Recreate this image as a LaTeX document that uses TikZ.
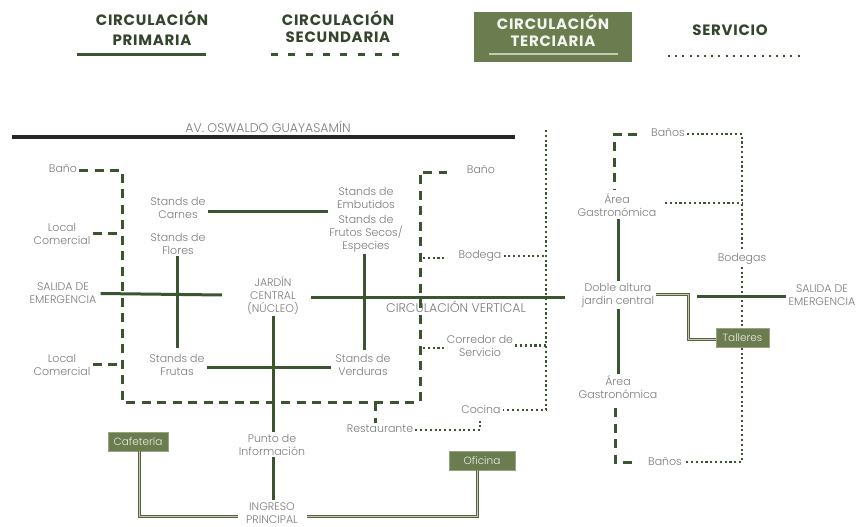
\documentclass[tikz,border=0pt]{standalone}
\usepackage{fontspec}
\setmainfont{Poppins}
\IfFontExistsTF{Poppins Light}{\newfontfamily\lightfont{Poppins Light}}{\newfontfamily\lightfont{Poppins}}
\usetikzlibrary{positioning}

\definecolor{darkgr}{HTML}{3B5530}
\definecolor{olivegr}{HTML}{6B7D4E}
\definecolor{palegr}{HTML}{C4CBB5}
\definecolor{txtgr}{HTML}{7A7A7A}
\definecolor{hdrgr}{HTML}{34452E}

\begin{document}
\begin{tikzpicture}[
	x=1pt, y=-1pt,
	lbl/.style={font=\lightfont\fontsize{11}{13}\selectfont, text=txtgr,
		align=center, inner sep=2pt},
	biglbl/.style={lbl, font=\lightfont\fontsize{12.5}{14}\selectfont},
	hd/.style={font=\bfseries\fontsize{15}{17}\selectfont\addfontfeature{LetterSpace=5},
		text=hdrgr, align=center},
	tbox/.style={fill=olivegr, draw=palegr!50!olivegr, line width=0.4pt,
		text=white!88!olivegr, font=\lightfont\fontsize{10.5}{12}\selectfont,
		inner sep=0pt, minimum height=19pt},
	prim/.style={line width=3pt, draw=darkgr},
	sec/.style={line width=3pt, draw=darkgr, dash pattern=on 9pt off 6.5pt},
	serv/.style={line width=2.1pt, draw=darkgr, dash pattern=on 2.1pt off 2.7pt},
	terc/.style={draw=olivegr!80!black, double=palegr, line width=1pt, double distance=1pt},
]
\useasboundingbox (0,0) rectangle (860,527);

% ---- legend ----
\node[hd] (lgP) at (152,28.5) {CIRCULACIÓN\\[3pt]PRIMARIA};
\draw[prim] (77,55) -- (206,55);

\node[hd] (lgS) at (338,26.5) {CIRCULACIÓN\\SECUNDARIA};
\draw[sec, dash pattern=on 7pt off 10.3pt] (271,55) -- (401,55);

\node[fill=olivegr, minimum width=158pt, minimum height=50pt, inner sep=0pt] (lgTbox) at (553,37) {};
\node[hd, text=white!92!olivegr] (lgT) at (553,30.5) {CIRCULACIÓN\\TERCIARIA};
\draw[line width=2.5pt, palegr] (489,54) -- (618,54);

\node[hd] (lgV) at (730,30) {SERVICIO};
\draw[serv, dash pattern=on 2pt off 5.2pt] (668,56) -- (800,56);

% ---- avenue ----
\coordinate (av1) at (12,137);
\coordinate (av2) at (515,137);
\draw[line width=3.8pt, black!85] (av1) -- (av2);
\node[biglbl, anchor=south] (avname) at (268,135) {AV. OSWALDO GUAYASAMÍN};

% ---- market block ----
\node[lbl] (bano1) at (63,169) {Baño};
\node[lbl] (loc1) at (62,233.5) {Local\\Comercial};
\node[lbl] (salida1) at (63,293.5) {SALIDA DE\\EMERGENCIA};
\node[lbl] (loc2) at (62,364.5) {Local\\Comercial};

\node[lbl] (carnes) at (178,207.5) {Stands de\\Carnes};
\node[lbl] (flores) at (178,243.5) {Stands de\\Flores};
\node[lbl] (embut) at (366,197.5) {Stands de\\Embutidos};
\node[lbl] (frutos) at (366,233.5) {Stands de\\Frutos Secos/\\Especies};
\node[lbl] (jardin) at (273,295) {JARDÍN\\CENTRAL\\(NÚCLEO)};
\node[lbl] (frutas) at (177,364.5) {Stands de\\Frutas};
\node[lbl] (verdur) at (363,364.5) {Stands de\\Verduras};
\node[biglbl] (cvert) at (456,307) {CIRCULACIÓN VERTICAL};

\coordinate (sE) at (222,295);
\coordinate (flB) at (177,348);
\coordinate (caE) at (328,211);
\coordinate (frB) at (364,350);
\coordinate (jaE) at (565,297);
\coordinate (fuE) at (331,367);

\draw[prim] ([xshift=2pt]salida1.east) -- (sE);
\draw[prim] (flores.south -| flB) -- (flB);
\draw[prim] (carnes.east |- caE) -- (caE);
\draw[prim] (frutos.south -| frB) -- (frB);
\draw[prim] ([xshift=10pt]jardin.east |- jaE) -- (jaE);
\draw[prim] (frutas.east |- fuE) -- (fuE);

% secondary ring
\coordinate (dLt) at (122,170);
\coordinate (dLb) at (122,402);
\coordinate (dRb) at (420,402);
\coordinate (dRt) at (420,172);
\coordinate (dRe) at (447,172);
\coordinate (dRs) at (375,402);
\draw[sec] (bano1.east |- dLt) -- (dLt) -- (dLb) -- (dRb) -- (dRt) -- (dRe);
\draw[sec] (loc1.east) -- (loc1.east -| dLt);
\draw[sec] (loc2.east) -- (loc2.east -| dLt);

% ---- service strip ----
\node[lbl] (bano2) at (481,170) {Baño};
\node[lbl] (bodega) at (480,256) {Bodega};
\node[lbl] (corred) at (480,345.5) {Corredor de\\Servicio};
\node[lbl] (cocina) at (481,409) {Cocina};
\node[lbl] (restau) at (380,429) {Restaurante};

\coordinate (svT) at (546,130);
\coordinate (svB) at (546,410);
\coordinate (bdL) at (423,258);
\coordinate (bdR) at (447,258);
\coordinate (crL) at (423,348);
\coordinate (crR) at (447,348);
\coordinate (rsC) at (480,430);
\coordinate (rsT) at (480,419);

\draw[sec] (dRs) -- (restau.north -| dRs);
\draw[serv] (svT) -- (svB) -- (cocina.east |- svB);
\draw[serv] (bodega.east) -- (bodega.east -| svT);
\draw[serv] (corred.east) -- (corred.east -| svT);
\draw[serv] (bdL) -- (bdR);
\draw[serv] (crL) -- (crR);
\draw[serv] (restau.east |- rsC) -- (rsC) -- (rsT);

% ---- right wing ----
\node[lbl] (banos3) at (668,133) {Baños};
\node[lbl] (area1) at (617,205.5) {Área\\Gastronómica};
\node[lbl] (bodegas) at (742,259) {Bodegas};
\node[lbl] (doble) at (618,295) {Doble altura\\jardin central};
\node[lbl] (salida2) at (822,295.5) {SALIDA DE\\EMERGENCIA};
\node[tbox, minimum width=53pt] (taller) at (742.5,338) {Talleres};
\node[lbl] (area2) at (618,387.5) {Área\\Gastronómica};
\node[lbl] (banos4) at (665,462) {Baños};

\coordinate (b3L) at (614,134);
\coordinate (b3e) at (637,134);
\coordinate (a1T) at (614,190);
\coordinate (a2B) at (615,408);
\coordinate (b4L) at (615,462);
\coordinate (b4e) at (634,462);
\coordinate (svRt) at (742,134);
\coordinate (svRb) at (742,462);
\coordinate (gaE) at (665,203);
\coordinate (s2W) at (697,296);
\coordinate (tkA) at (688,294);
\coordinate (tkB) at (688,339);

\draw[sec] (b3e) -- (b3L) -- (a1T);
\draw[sec] (a2B) -- (b4L) -- (b4e);
\draw[prim] (area1.south -| doble) -- (doble.north);
\draw[prim] (doble.south) -- (area2.north);
\draw[serv] (banos3.east |- svRt) -- (svRt) -- (bodegas.north);
\draw[serv] (bodegas.south) -- (taller.north -| bodegas);
\draw[serv] (taller.south -| bodegas) -- (svRb) -- (banos4.east |- svRb);
\draw[serv] (gaE) -- (gaE -| svRt);
\draw[prim] (s2W) -- (salida2.west |- s2W);
\draw[terc] (doble.east |- tkA) -- (tkA) -- (tkB) -- (taller.west |- tkB);

% ---- entrance ----
\node[lbl] (punto) at (272,444.5) {Punto de\\Información};
\node[lbl] (ingreso) at (272,513) {INGRESO\\PRINCIPAL};
\node[tbox, minimum width=60pt] (cafe) at (138,441.5) {Cafetería};
\node[tbox, minimum width=66pt] (ofic) at (482,460.5) {Oficina};

\coordinate (cfB) at (139,516);
\coordinate (inL) at (238,516);
\coordinate (inR) at (307,516);
\coordinate (ofB) at (477,516);

\draw[prim] (jardin.south -| 273,0) -- (punto.north -| 273,0);
\draw[prim] (punto.south -| 273,0) -- (ingreso.north -| 273,0);
\draw[terc] (cafe.south -| cfB) -- (cfB) -- (inL);
\draw[terc] (inR) -- (ofB) -- (ofic.south -| ofB);

\end{tikzpicture}
\end{document}
